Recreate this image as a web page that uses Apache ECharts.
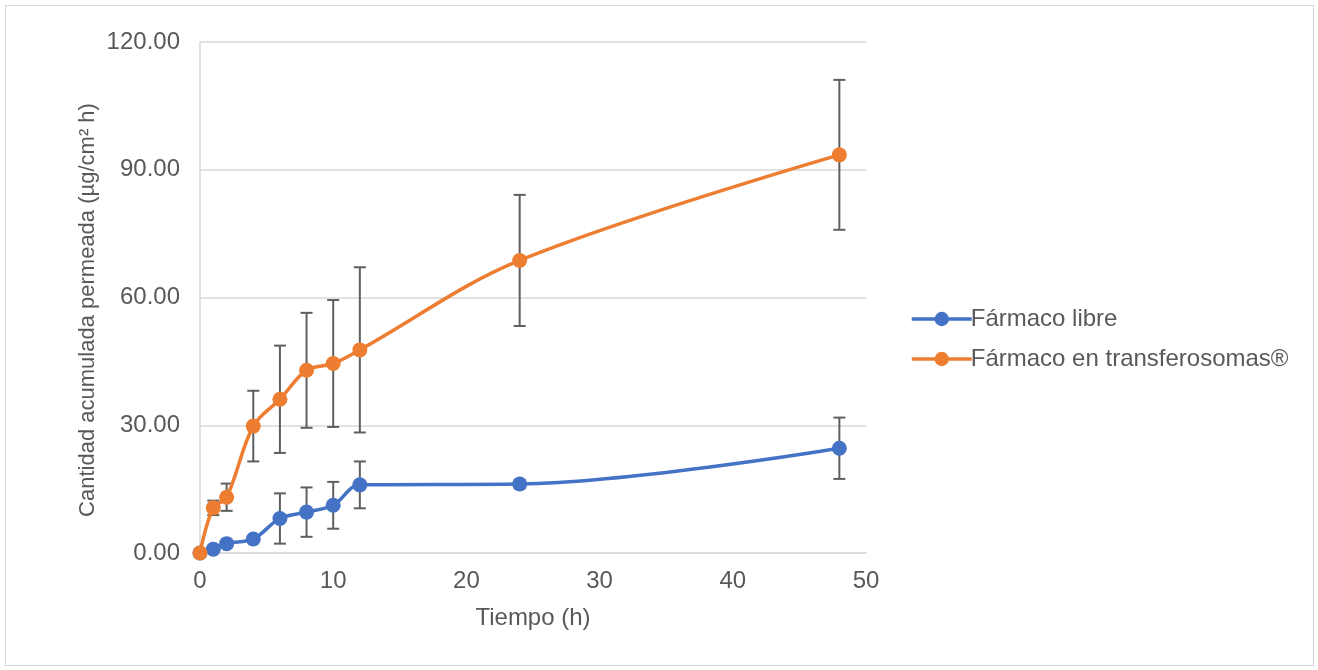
<!DOCTYPE html>
<html>
<head>
<meta charset="utf-8">
<script src="https://cdn.jsdelivr.net/npm/echarts@6/dist/echarts.min.js"></script>
<style>
html,body{margin:0;padding:0;background:#fff;}
#wrap{position:absolute;left:5px;top:5px;width:1307px;height:659px;border:1px solid #d9d9d9;}
#chart{position:absolute;left:0;top:0;width:1318px;height:670px;}
</style>
</head>
<body>
<div id="wrap"></div>
<div id="chart"></div>
<script>
const times = [0, 1, 2, 4, 6, 8, 10, 12, 24, 48];
const libreMean = [0, 0.9, 2.2, 3.3, 8.1, 9.6, 11.2, 16.0, 16.2, 24.6];
const libreErr  = [0, 0.4, 0.5, 0.6, 5.9, 5.8, 5.5, 5.5, 1.0, 7.2];
const transMean = [0, 10.6, 13.1, 29.8, 36.1, 42.9, 44.5, 47.7, 68.7, 93.5];
const transErr  = [0, 1.7, 3.2, 8.3, 12.6, 13.5, 14.9, 19.4, 15.4, 17.6];
const seriesNames = ['Fármaco libre', 'Fármaco en transferosomas®'];
const xTitle = 'Tiempo (h)';
const yTitle = 'Cantidad acumulada permeada (µg/cm² h)';
const colors = ['#4472c4', '#ed7d31'];

function pairs(mean){ return times.map((t,i)=>[t, mean[i]]); }
function errData(mean, err){ return times.map((t,i)=>[t, mean[i]-err[i], mean[i]+err[i]]); }

function errSeries(mean, err){
  return {
    type: 'custom',
    data: errData(mean, err),
    z: 1,
    silent: true,
    renderItem: function(params, api){
      const x = api.value(0);
      const lo = api.coord([x, api.value(1)]);
      const hi = api.coord([x, api.value(2)]);
      const w = 6;
      const st = {stroke: '#5f5f5f', lineWidth: 2};
      return {type: 'group', children: [
        {type: 'line', shape: {x1: lo[0], y1: lo[1], x2: hi[0], y2: hi[1]}, style: st},
        {type: 'line', shape: {x1: lo[0]-w, y1: lo[1], x2: lo[0]+w, y2: lo[1]}, style: st},
        {type: 'line', shape: {x1: hi[0]-w, y1: hi[1], x2: hi[0]+w, y2: hi[1]}, style: st}
      ]};
    }
  };
}

const chart = echarts.init(document.getElementById('chart'));
const font = 'Arial, "Liberation Sans", sans-serif';
chart.setOption({
  animation: false,
  textStyle: {fontFamily: font},
  grid: {left: 200, right: 452, top: 42, bottom: 117},
  graphic: [{
    type: 'text', x: 88, y: 310, rotation: Math.PI / 2,
    style: {text: yTitle, fill: '#595959', font: '22px ' + font, textAlign: 'center', textVerticalAlign: 'middle', verticalAlign: 'middle'}
  }],
  legend: {
    orient: 'vertical',
    left: 905, top: 302,
    itemWidth: 60, itemHeight: 18, itemGap: 16,
    lineStyle: {width: 3.5},
    textStyle: {fontSize: 24, color: '#595959', fontFamily: font, padding: [0,0,0,-6]},
    data: seriesNames
  },
  xAxis: {
    type: 'value', min: 0, max: 50, interval: 10,
    name: xTitle, nameLocation: 'middle', nameGap: 53,
    nameTextStyle: {fontSize: 24, color: '#595959'},
    axisLine: {show: true, lineStyle: {color: '#d9d9d9', width: 1.5}},
    axisTick: {show: false},
    axisLabel: {fontSize: 24, color: '#595959', margin: 16},
    splitLine: {show: false}
  },
  yAxis: {
    type: 'value', min: 0, max: 120, interval: 30,
    axisLine: {show: true, lineStyle: {color: '#d9d9d9', width: 1.5}},
    axisTick: {show: false},
    axisLabel: {fontSize: 24, color: '#595959', margin: 20, formatter: v => v.toFixed(2)},
    splitLine: {show: true, lineStyle: {color: '#d9d9d9', width: 1.5}}
  },
  series: [
    errSeries(libreMean, libreErr),
    errSeries(transMean, transErr),
    {
      name: seriesNames[0], type: 'line', data: pairs(libreMean), smooth: 0.35,
      symbol: 'circle', symbolSize: 15, z: 3,
      lineStyle: {color: colors[0], width: 3.5},
      itemStyle: {color: colors[0]}
    },
    {
      name: seriesNames[1], type: 'line', data: pairs(transMean), smooth: 0.35,
      symbol: 'circle', symbolSize: 15, z: 4,
      lineStyle: {color: colors[1], width: 3.5},
      itemStyle: {color: colors[1]}
    }
  ]
});
</script>
</body>
</html>
